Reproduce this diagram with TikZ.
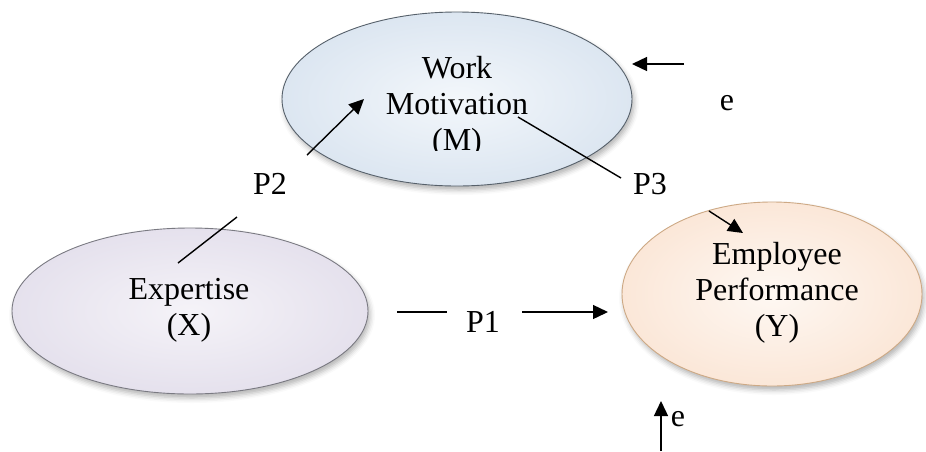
\documentclass[tikz,border=0pt]{standalone}
\usepackage{fontspec}
\setmainfont{Liberation Serif}
\usetikzlibrary{shapes.geometric,arrows.meta,shadows.blur}

\definecolor{wmIn}{HTML}{F3F7FB}
\definecolor{wmOut}{HTML}{DCE6F1}
\definecolor{wmLine}{HTML}{56606A}
\definecolor{exIn}{HTML}{F5F3F8}
\definecolor{exOut}{HTML}{E5E1ED}
\definecolor{exLine}{HTML}{7A7A82}
\definecolor{epIn}{HTML}{FEF8F3}
\definecolor{epOut}{HTML}{FBE7D8}
\definecolor{epLine}{HTML}{CDA985}

\tikzset{
  bubble/.style={ellipse, inner sep=0pt, line width=0.9pt,
    blur shadow={shadow xshift=2pt, shadow yshift=-4pt, shadow blur radius=5pt, shadow opacity=30}},
  label/.style={font=\fontsize{32}{36}\selectfont, align=center, inner sep=0pt},
  link/.style={line width=1.4pt},
  arrowlink/.style={link, -{Triangle[length=15pt,width=14pt]}}
}

\begin{document}
\begin{tikzpicture}[x=1pt,y=-1pt]
  \useasboundingbox (0,0) rectangle (926,451);

  % the three variables
  \node[bubble, draw=wmLine, inner color=wmIn, outer color=wmOut,
        minimum width=350pt, minimum height=174pt] (wm) at (457,99) {};
  \node[bubble, draw=exLine, inner color=exIn, outer color=exOut,
        minimum width=356pt, minimum height=166pt] (ex) at (190,311) {};
  \node[bubble, draw=epLine, inner color=epIn, outer color=epOut,
        minimum width=300pt, minimum height=184pt] (ep) at (772,294) {};

  % labels (the motivation box is cut off at its lower edge)
  \begin{scope}
    \clip (280,0) rectangle (640,150);
    \node[label] (wmtext) at (457,107) {Work\\Motivation\\(M)};
  \end{scope}
  \node[label] (extext) at (189,310) {Expertise\\(X)};
  \node[label] (eptext) at (777,293) {Employee\\Performance\\(Y)};

  % path labels
  \node[label] (p1) at (483,322) {P1};
  \node[label] (p2) at (270,184) {P2};
  \node[label] (p3) at (650,184) {P3};
  \node[label] (e1) at (727,103) {e};
  \node[label] (e2) at (678,419) {e};

  % P1: X -> Y
  \coordinate (p1a) at (397,312);
  \coordinate (p1b) at (447,312);
  \coordinate (p1c) at (522,312);
  \coordinate (p1d) at (608,312);
  \draw[link] (p1a) -- (p1b);
  \draw[arrowlink] (p1c) -- (p1d);

  % P2: X -> M
  \coordinate (p2a) at (178,263);
  \coordinate (p2b) at (237,217);
  \coordinate (p2c) at (307,155);
  \coordinate (p2d) at (364,99);
  \draw[link] (p2a) -- (p2b);
  \draw[arrowlink] (p2c) -- (p2d);

  % P3: M -> Y
  \coordinate (p3a) at (518,117);
  \coordinate (p3b) at (621,178);
  \coordinate (p3c) at (709,211);
  \coordinate (p3d) at (743,233);
  \draw[link] (p3a) -- (p3b);
  \draw[arrowlink] (p3c) -- (p3d);

  % error terms
  \coordinate (e1a) at (684,64);
  \coordinate (e1b) at (632,64);
  \draw[arrowlink] (e1a) -- (e1b);
  \coordinate (e2a) at (661,451);
  \coordinate (e2b) at (661,401);
  \draw[arrowlink] (e2a) -- (e2b);
\end{tikzpicture}
\end{document}
